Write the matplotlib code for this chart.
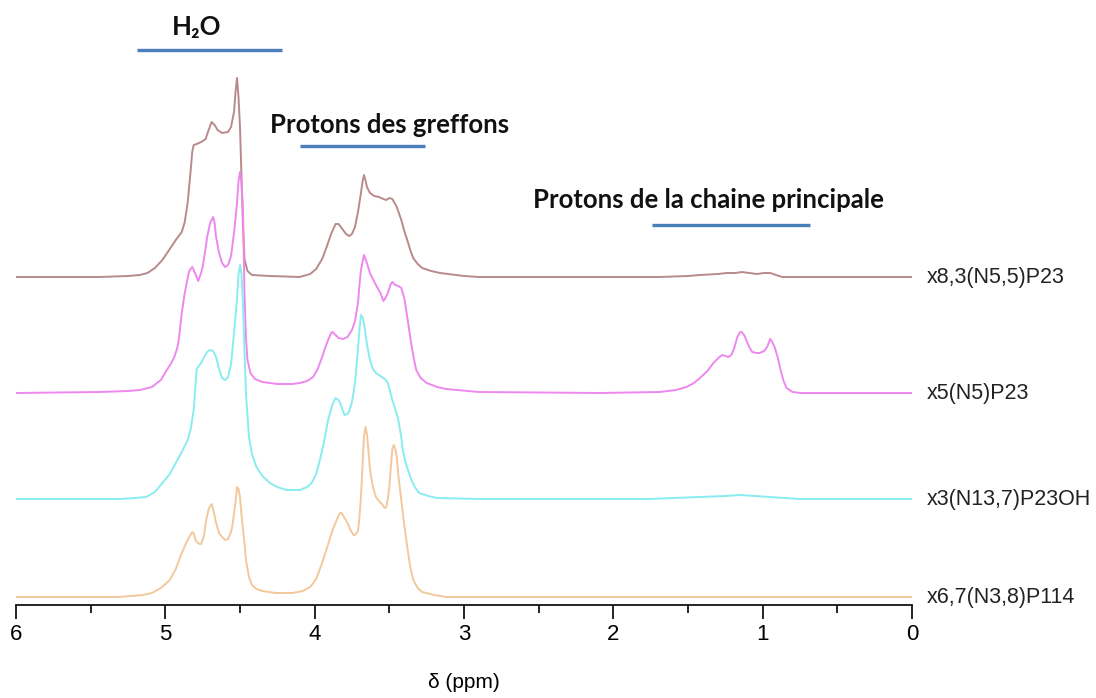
import matplotlib
matplotlib.use("Agg")
import matplotlib.pyplot as plt
from matplotlib.ticker import MultipleLocator

# sample names (top to bottom) and their colours
names = ["x8,3(N5,5)P23", "x5(N5)P23", "x3(N13,7)P23OH", "x6,7(N3,8)P114"]
colors = ["#b98a8c", "#ee88ee", "#88ecf0", "#f2c89c"]
offsets = [328, 212, 106, 8]

# spectra: chemical shift (ppm) and intensity above baseline
ppm_brown = [6.00, 5.44, 5.25, 5.17, 5.12, 5.07, 5.02, 4.97, 4.93, 4.89, 4.87, 4.85, 4.83,
             4.82, 4.81, 4.79, 4.76, 4.73, 4.71, 4.69, 4.67, 4.65, 4.62, 4.58, 4.56, 4.54,
             4.53, 4.52, 4.51, 4.50, 4.49, 4.48, 4.47, 4.45, 4.42, 4.30, 4.10, 4.03, 3.99,
             3.95, 3.92, 3.89, 3.86, 3.84, 3.82, 3.79, 3.77, 3.75, 3.73, 3.71, 3.69, 3.68,
             3.67, 3.66, 3.65, 3.63, 3.60, 3.57, 3.54, 3.52, 3.50, 3.48, 3.45, 3.42, 3.40,
             3.38, 3.36, 3.34, 3.31, 3.28, 3.22, 3.16, 3.00, 2.90, 2.09, 1.69, 1.50, 1.42,
             1.30, 1.24, 1.18, 1.14, 1.09, 1.04, 0.99, 0.95, 0.91, 0.87, 0.75, 0.00]
int_brown = [0, 0, 1, 2, 4, 9, 17, 28, 37, 45, 55, 75, 107,
             125, 132, 133, 135, 138, 147, 155, 152, 147, 144, 145, 150, 165,
             185, 199, 180, 150, 100, 50, 18, 6, 2, 1, 0, 3, 8,
             18, 30, 43, 53, 53, 49, 43, 41, 43, 50, 65, 84, 95,
             102, 97, 90, 84, 81, 80, 78, 77, 79, 78, 70, 57, 46,
             37, 27, 19, 13, 9, 6, 4, 1, 0, 0, 0, 1, 2,
             3, 4, 4, 5, 4, 3, 4, 4, 2, 0, 0, 0]

ppm_magenta = [6.00, 5.44, 5.25, 5.17, 5.09, 5.03, 4.99, 4.96, 4.94, 4.92, 4.91, 4.89, 4.87,
               4.85, 4.84, 4.82, 4.81, 4.79, 4.78, 4.765, 4.75, 4.73, 4.72, 4.70, 4.68, 4.67,
               4.66, 4.64, 4.62, 4.60, 4.58, 4.56, 4.54, 4.52, 4.51, 4.50, 4.49, 4.48, 4.47,
               4.46, 4.45, 4.43, 4.40, 4.35, 4.25, 4.15, 4.10, 4.05, 4.01, 3.98, 3.95, 3.93,
               3.91, 3.89, 3.88, 3.86, 3.84, 3.81, 3.78, 3.75, 3.73, 3.71, 3.70, 3.69, 3.67,
               3.66, 3.65, 3.63, 3.61, 3.59, 3.56, 3.54, 3.53, 3.51, 3.49, 3.48, 3.46, 3.44,
               3.42, 3.40, 3.39, 3.37, 3.35, 3.33, 3.32, 3.29, 3.25, 3.18, 3.12, 2.90, 2.09,
               1.69, 1.58, 1.51, 1.46, 1.42, 1.37, 1.33, 1.29, 1.27, 1.25, 1.23, 1.21, 1.19,
               1.17, 1.15, 1.14, 1.12, 1.11, 1.09, 1.07, 1.04, 1.02, 0.99, 0.97, 0.95, 0.94,
               0.92, 0.90, 0.88, 0.86, 0.84, 0.80, 0.75, 0.00]
int_magenta = [0, 1, 2, 3, 6, 13, 23, 30, 36, 45, 53, 80, 100,
               115, 122, 126, 123, 116, 112, 118, 126, 145, 156, 170, 176, 170,
               156, 140, 130, 126, 128, 137, 160, 190, 212, 221, 210, 183, 100,
               55, 33, 20, 14, 11, 9, 9, 10, 12, 16, 24, 36, 45,
               53, 60, 61, 58, 55, 54, 56, 63, 72, 90, 108, 123, 138,
               134, 130, 120, 114, 108, 100, 92, 94, 100, 109, 111, 108, 107,
               105, 95, 86, 66, 46, 30, 23, 15, 10, 6, 4, 1, 0,
               1, 3, 6, 10, 15, 22, 30, 36, 38, 37, 36, 38, 45,
               56, 61, 61, 57, 53, 46, 41, 40, 40, 42, 46, 54, 52,
               46, 36, 23, 12, 5, 1, 0, 0]

ppm_cyan = [6.00, 5.31, 5.20, 5.13, 5.07, 5.02, 4.97, 4.93, 4.89, 4.85, 4.83, 4.81, 4.80,
            4.79, 4.775, 4.76, 4.74, 4.72, 4.70, 4.68, 4.66, 4.64, 4.62, 4.60, 4.58, 4.56,
            4.54, 4.52, 4.51, 4.50, 4.49, 4.48, 4.47, 4.46, 4.44, 4.42, 4.39, 4.35, 4.30,
            4.25, 4.19, 4.10, 4.05, 4.02, 3.99, 3.97, 3.94, 3.91, 3.88, 3.86, 3.84, 3.83,
            3.81, 3.80, 3.78, 3.77, 3.75, 3.73, 3.71, 3.70, 3.69, 3.68, 3.67, 3.65, 3.63,
            3.61, 3.59, 3.57, 3.55, 3.53, 3.51, 3.49, 3.48, 3.46, 3.44, 3.42, 3.41, 3.39,
            3.36, 3.33, 3.30, 3.24, 3.18, 2.90, 1.76, 1.60, 1.42, 1.25, 1.15, 1.05, 0.95,
            0.85, 0.75, 0.00]
int_cyan = [0, 0, 1, 2, 7, 16, 25, 36, 47, 59, 70, 89, 110,
            130, 133, 136, 142, 147, 149, 148, 142, 130, 121, 119, 122, 135,
            166, 200, 225, 234, 225, 195, 149, 105, 62, 45, 32, 23, 16,
            12, 9, 9, 12, 16, 25, 36, 55, 79, 95, 101, 99, 96,
            88, 84, 85, 87, 97, 116, 150, 170, 184, 182, 176, 155, 139,
            130, 126, 124, 122, 120, 116, 105, 99, 90, 79, 62, 49, 36,
            22, 12, 6, 3, 1, 0, 0, 1, 2, 3, 4, 3, 2,
            1, 0, 0]

ppm_orange = [6.00, 5.31, 5.15, 5.09, 5.03, 4.97, 4.93, 4.89, 4.86, 4.84, 4.82, 4.81, 4.80,
              4.79, 4.77, 4.76, 4.74, 4.73, 4.71, 4.69, 4.68, 4.66, 4.64, 4.62, 4.60, 4.58,
              4.56, 4.55, 4.53, 4.52, 4.51, 4.50, 4.49, 4.47, 4.46, 4.44, 4.42, 4.39, 4.35,
              4.26, 4.15, 4.08, 4.03, 3.99, 3.95, 3.92, 3.88, 3.85, 3.83, 3.82, 3.80, 3.78,
              3.76, 3.74, 3.73, 3.71, 3.70, 3.69, 3.68, 3.67, 3.66, 3.65, 3.64, 3.63, 3.61,
              3.59, 3.57, 3.55, 3.53, 3.52, 3.51, 3.50, 3.49, 3.48, 3.47, 3.46, 3.45, 3.44,
              3.42, 3.40, 3.38, 3.36, 3.34, 3.31, 3.28, 3.20, 3.12, 2.90, 0.00]
int_orange = [0, 0, 2, 4, 9, 17, 28, 44, 54, 60, 65, 64, 58,
              55, 53, 53, 62, 74, 88, 93, 88, 74, 64, 60, 57, 58,
              65, 72, 95, 110, 108, 100, 82, 54, 37, 20, 12, 8, 6,
              4, 4, 6, 10, 18, 34, 48, 67, 78, 84, 84, 79, 74,
              67, 62, 62, 66, 80, 100, 130, 160, 170, 163, 147, 128, 110,
              100, 96, 93, 89, 90, 98, 110, 130, 148, 152, 148, 140, 122,
              97, 72, 50, 30, 17, 9, 5, 2, 0, 0, 0]

spectra_ppm = [ppm_brown, ppm_magenta, ppm_cyan, ppm_orange]
spectra_int = [int_brown, int_magenta, int_cyan, int_orange]

# region annotations: label, ppm span of the bar
regions = ["H\u2082O", "Protons des greffons", "Protons de la chaine principale"]
region_spans = [(5.19, 4.22), (4.10, 3.26), (1.74, 0.68)]

fig = plt.figure(figsize=(10.96, 6.98), dpi=100)
ax = fig.add_axes([16 / 1096, 1 - 605 / 698, (912 - 16) / 1096, 605 / 698])

for p, s, off, c in zip(spectra_ppm, spectra_int, offsets, colors):
    ax.plot(p, [v + off for v in s], color=c, lw=1.4, solid_joinstyle="round")

narrow = ["Liberation Sans", "DejaVu Sans"]
for name, off in zip(names, offsets):
    ax.text(-0.10, off, name, ha="left", va="center", fontsize=15.5,
            family=narrow, color="#222222", clip_on=False)

# annotation bars and titles
bar_y = [555, 459, 380]
title_y = [578, 480, 405]
title_x = [4.79, 3.50, 1.36]
for lab, (a, b), by, ty, tx in zip(regions, region_spans, bar_y, title_y, title_x):
    ax.plot([a, b], [by, by], color="#4a7ebb", lw=2.4, clip_on=False,
            solid_capstyle="butt")
    ax.text(tx, ty, lab, ha="center", va="center", fontsize=18.5, fontweight="bold",
            family=["Lato", "DejaVu Sans"], color="#111111", clip_on=False)

ax.set_xlim(6, 0)
ax.set_ylim(0, 605)
for sp in ["top", "right", "left"]:
    ax.spines[sp].set_visible(False)
ax.spines["bottom"].set_linewidth(1.2)
ax.set_yticks([])
ax.xaxis.set_major_locator(MultipleLocator(1))
ax.xaxis.set_minor_locator(MultipleLocator(0.5))
ax.tick_params(axis="x", which="major", length=10, width=1.2, pad=4, labelsize=16)
ax.tick_params(axis="x", which="minor", length=6, width=1.2)
for t in ax.get_xticklabels():
    t.set_family(narrow)
ax.set_xlabel("\u03b4 (ppm)", fontsize=15, family=narrow, labelpad=20)

fig.savefig("out.png", dpi=100)
